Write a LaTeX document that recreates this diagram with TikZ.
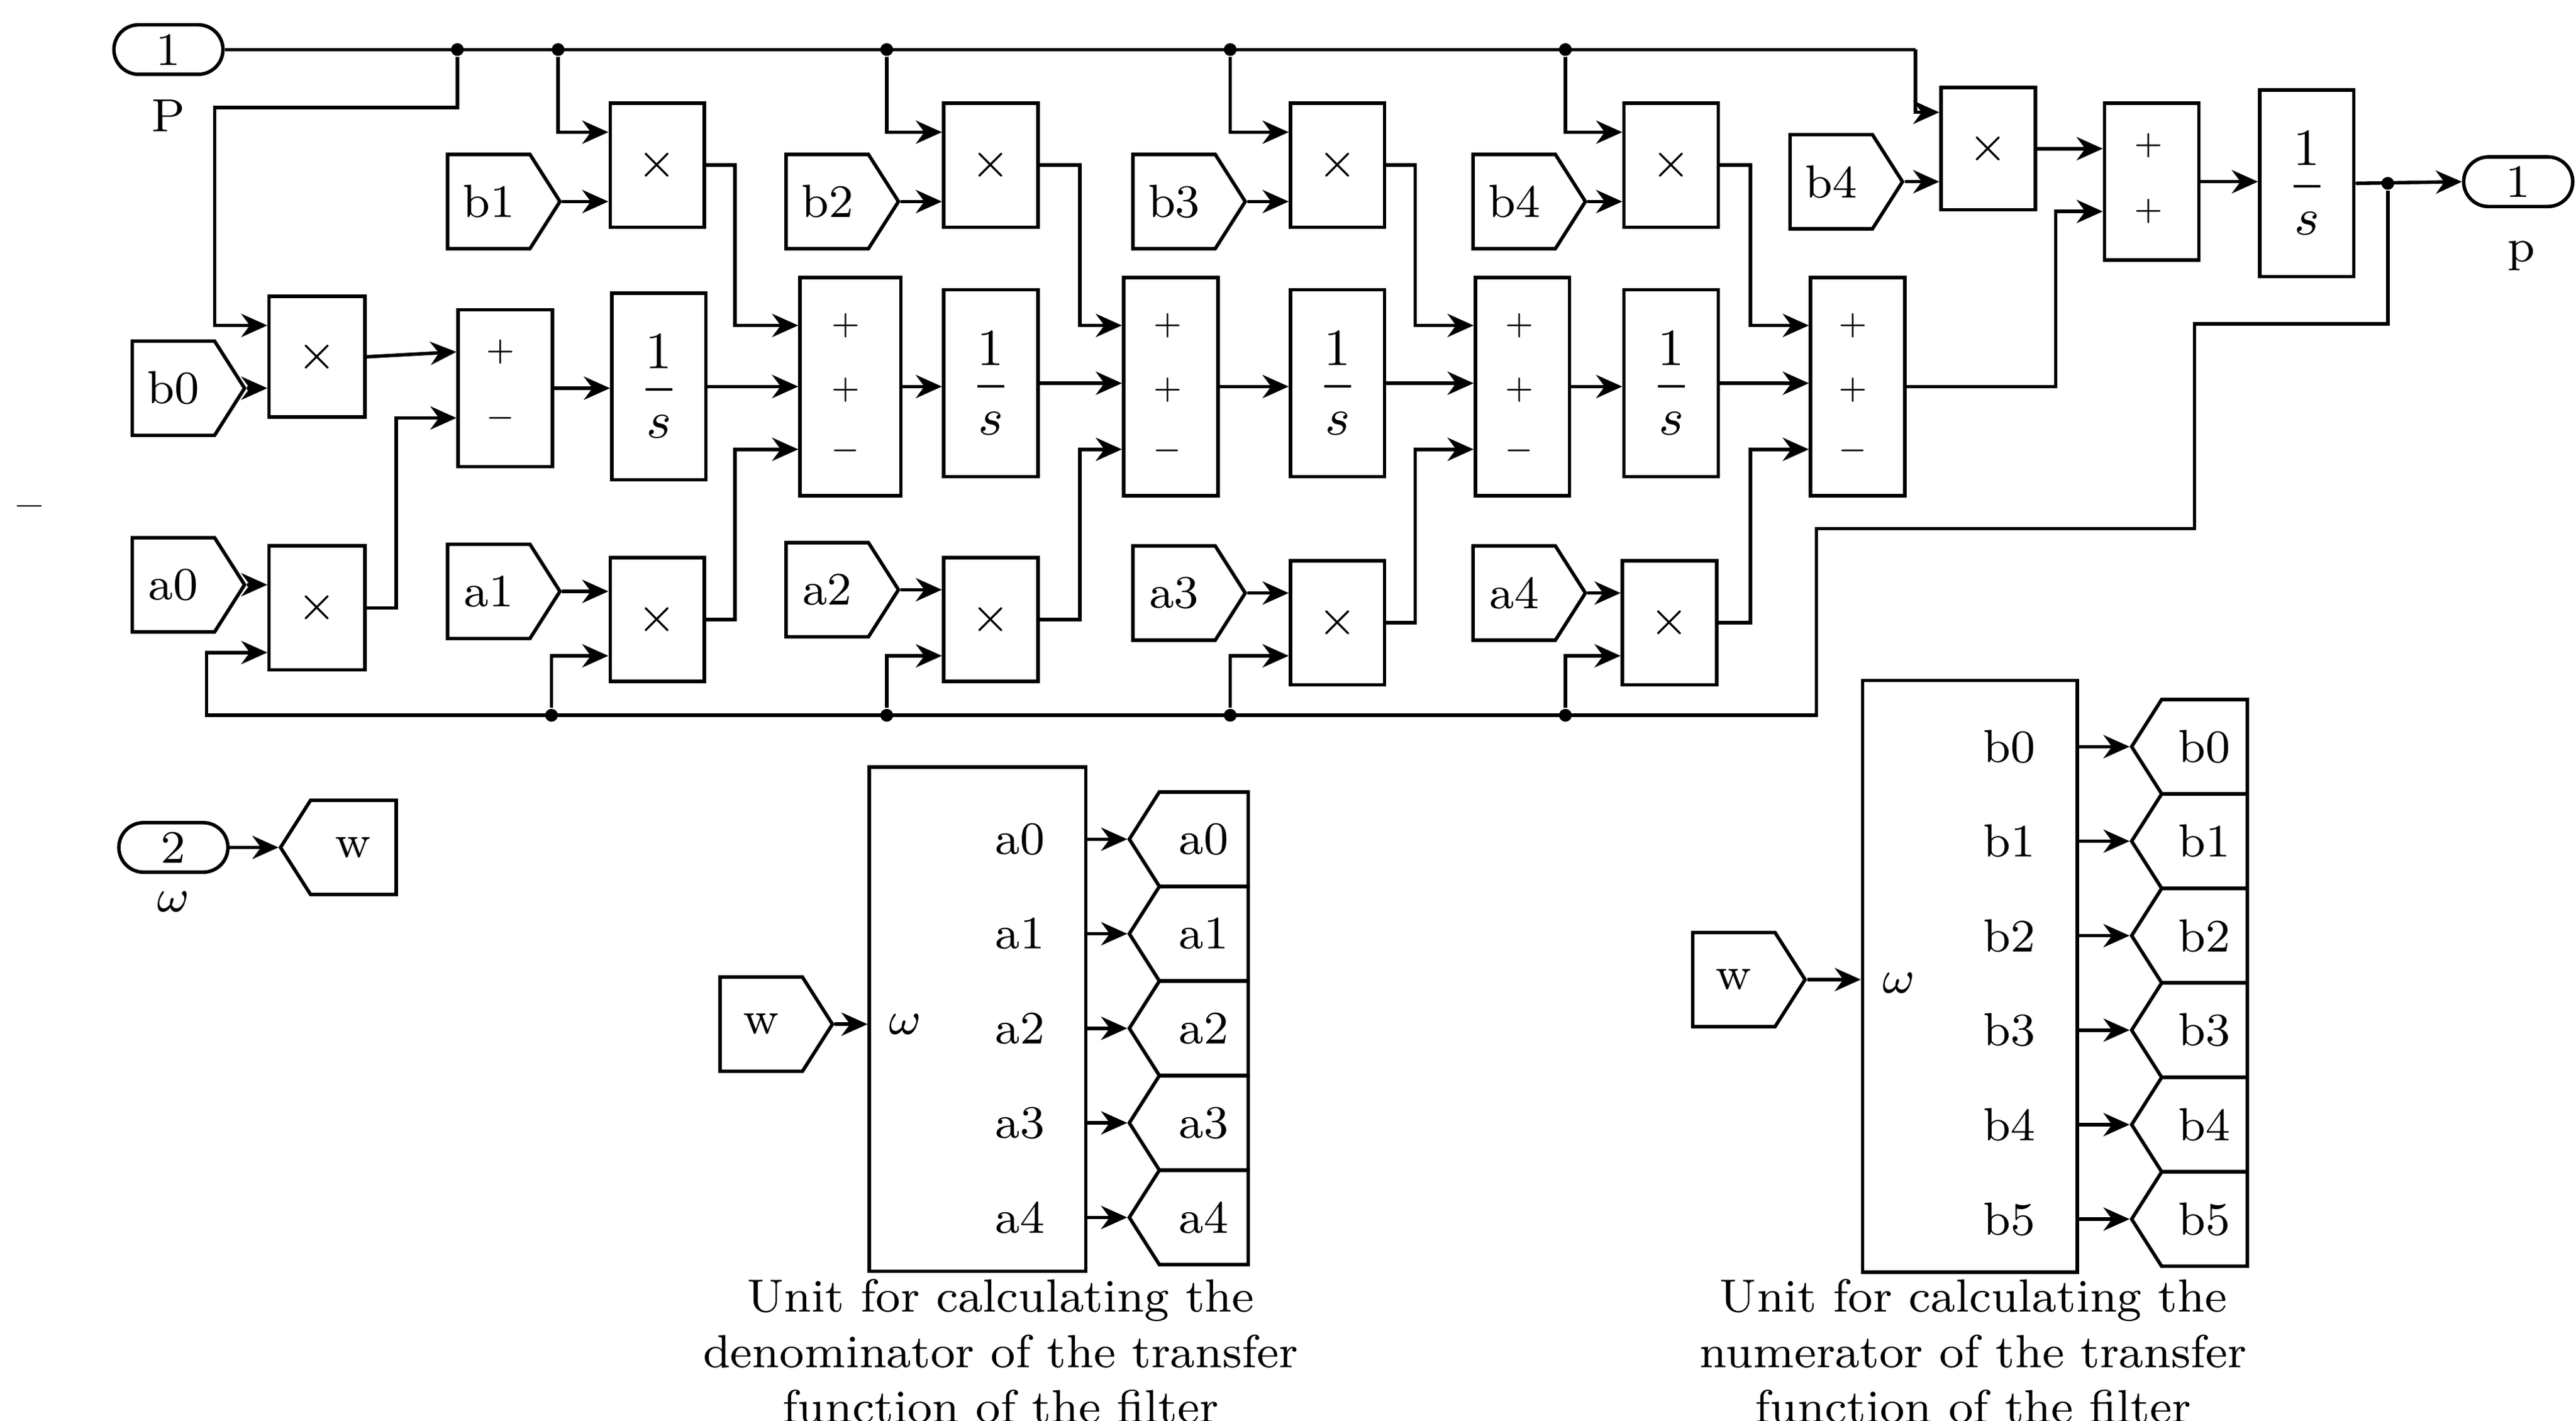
\documentclass[tikz,border=0pt]{standalone}
\usetikzlibrary{arrows.meta,shapes.symbols}
\newcommand{\ints}{$\displaystyle\frac{1}{s}$}
\tikzset{
  wire/.style={line width=0.6pt},
  sig/.style={wire,-{Stealth[length=4.5pt,width=4pt]}},
  blk/.style={draw,line width=0.6pt,rectangle,inner sep=0pt},
  gto/.style={draw,line width=0.6pt,shape=signal,signal to=east,signal pointer angle=115,
    minimum width=0.68cm,minimum height=0.57cm,inner sep=0pt,font=\footnotesize},
  frm/.style={draw,line width=0.6pt,shape=signal,signal to=west,signal pointer angle=115,
    minimum width=0.70cm,minimum height=0.57cm,inner sep=0pt,font=\footnotesize},
  term/.style={draw,line width=0.6pt,rectangle,rounded corners=1.5mm,minimum width=0.66cm,
    minimum height=0.30cm,inner sep=0pt,font=\footnotesize},
  dot/.style={circle,fill,inner sep=0pt,minimum size=2.2pt},
  pm/.style={font=\tiny,inner sep=0pt},
  integ/.style={blk,minimum width=0.57cm,minimum height=1.13cm,font=\small}
}
\begin{document}
\begin{tikzpicture}[x=0.01cm,y=-0.01cm,font=\footnotesize]
\useasboundingbox (0,0) rectangle (1560,860);
% ports
\node[term] (in1) at (102,30) {1};
\node (lP) at (102,70) {P};
\node[term] (out1) at (1525,110) {1};
\node (lp) at (1527,155) {p};
\node[term] (in2) at (105,513) {2};
\node (lw) at (105,546) {$\omega$};
\node (stray) at (18,310) {--};
% tags
\node[gto] (tb0) at (105,235) {b0};
\node[gto] (tb1) at (296,122) {b1};
\node[gto] (tb2) at (501,122) {b2};
\node[gto] (tb3) at (711,122) {b3};
\node[gto] (tb4) at (917,122) {b4};
\node[gto] (tb5) at (1109,110) {b4};
\node[gto] (ta0) at (105,354) {a0};
\node[gto] (ta1) at (296,358) {a1};
\node[gto] (ta2) at (501,357) {a2};
\node[gto] (ta3) at (711,359) {a3};
\node[gto] (ta4) at (917,359) {a4};
\node[frm] (tw) at (214,513) {w};
% multipliers
\node[blk,minimum width=0.58cm,minimum height=0.73cm] (mb0) at (192,216) {$\times$};
\node[blk,minimum width=0.57cm,minimum height=0.75cm] (mb1) at (398,100) {$\times$};
\node[blk,minimum width=0.57cm,minimum height=0.75cm] (mb2) at (600,100) {$\times$};
\node[blk,minimum width=0.57cm,minimum height=0.75cm] (mb3) at (810,100) {$\times$};
\node[blk,minimum width=0.57cm,minimum height=0.75cm] (mb4) at (1012,100) {$\times$};
\node[blk,minimum width=0.57cm,minimum height=0.74cm] (mb5) at (1204,90) {$\times$};
\node[blk,minimum width=0.58cm,minimum height=0.75cm] (ma0) at (192,368) {$\times$};
\node[blk,minimum width=0.57cm,minimum height=0.75cm] (ma1) at (398,375) {$\times$};
\node[blk,minimum width=0.57cm,minimum height=0.75cm] (ma2) at (600,375) {$\times$};
\node[blk,minimum width=0.57cm,minimum height=0.75cm] (ma3) at (810,377) {$\times$};
\node[blk,minimum width=0.57cm,minimum height=0.75cm] (ma4) at (1011,377) {$\times$};
% sums
\node[blk,minimum width=0.57cm,minimum height=0.95cm] (s1) at (306,235) {};
\node[blk,minimum width=0.61cm,minimum height=1.32cm] (s2) at (515,234) {};
\node[blk,minimum width=0.57cm,minimum height=1.32cm] (s3) at (709,234) {};
\node[blk,minimum width=0.57cm,minimum height=1.32cm] (s4) at (922,234) {};
\node[blk,minimum width=0.57cm,minimum height=1.32cm] (s5) at (1125,234) {};
\node[blk,minimum width=0.57cm,minimum height=0.95cm] (s6) at (1303,110) {};
\node[pm] (p11) at (303,213) {$+$};
\node[pm] (p12) at (303,253) {$-$};
\foreach \s/\x in {s2/512,s3/707,s4/920,s5/1122}{
  \node[pm] (\s p1) at (\x,197) {$+$};
  \node[pm] (\s p2) at (\x,236) {$+$};
  \node[pm] (\s p3) at (\x,273) {$-$};
}
\node[pm] (p61) at (1301,88) {$+$};
\node[pm] (p62) at (1301,128) {$+$};
% integrators
\node[integ] (i1) at (399,234) {\ints};
\node[integ] (i2) at (600,232) {\ints};
\node[integ] (i3) at (810,232) {\ints};
\node[integ] (i4) at (1012,232) {\ints};
\node[integ] (i5) at (1397,111) {\ints};
% input line P
\draw[wire] (in1.east) -- (1160,30);
\draw[sig] (1160,30) -- (1160,68) -- (mb5.west |- 0,68);
\node[dot] (d0) at (277,30) {};
\draw[sig] (d0) -- (277,65) -- (130,65) -- (130,197) -- (mb0.west |- 0,197);
\foreach \d/\x/\m in {d1/338/mb1,d2/537/mb2,d3/745/mb3,d4/948/mb4}{
  \node[dot] (\d) at (\x,30) {};
  \draw[sig] (\d) -- (\x,80) -- (\m.west |- 0,80);
}
\foreach \t/\m in {tb0/mb0,tb1/mb1,tb2/mb2,tb3/mb3,tb4/mb4,tb5/mb5,ta0/ma0,ta1/ma1,ta2/ma2,ta3/ma3,ta4/ma4}
  \draw[sig] (\t.east) -- (\m.west |- \t.east);
% forward chain
\draw[sig] (mb0.east) -- (s1.west |- 0,213);
\draw[sig] (ma0.east) -| (240,253) -- (s1.west |- 0,253);
\draw[sig] (s1.east) -- (i1.west |- s1.east);
\foreach \m/\a/\s/\x in {mb1/ma1/s2/445,mb2/ma2/s3/654,mb3/ma3/s4/857,mb4/ma4/s5/1060}{
  \draw[sig] (\m.east) -| (\x,197) -- (\s.west |- 0,197);
  \draw[sig] (\a.east) -| (\x,272) -- (\s.west |- 0,272);
}
\foreach \i/\s in {i1/s2,i2/s3,i3/s4,i4/s5}
  \draw[sig] (\i.east) -- (\s.west |- \i.east);
\foreach \s/\i in {s2/i2,s3/i3,s4/i4}
  \draw[sig] (\s.east) -- (\i.west |- \s.east);
\draw[sig] (s5.east) -| (1245,128) -- (s6.west |- 0,128);
\draw[sig] (mb5.east) -- (s6.west |- mb5.east);
\draw[sig] (s6.east) -- (i5.west |- s6.east);
\draw[sig] (i5.east) -- (out1.west);
% feedback
\node[dot] (df) at (1446,111) {};
\draw[sig] (df) -- (1446,196) -- (1329,196) -- (1329,320) -- (1100,320) -- (1100,433)
  -- (125,433) -- (125,395) -- (ma0.west |- 0,395);
\foreach \d/\x/\m in {e1/334/ma1,e2/537/ma2,e3/745/ma3,e4/948/ma4}{
  \node[dot] (\d) at (\x,433) {};
  \draw[sig] (\d) -- (\x,397) -- (\m.west |- 0,397);
}
\draw[sig] (in2.east) -- (tw.west);
% denominator unit
\node[blk,minimum width=1.31cm,minimum height=3.05cm] (den) at (592,617) {};
\node (dw) at (548,620) {$\omega$};
\node[gto] (twd) at (461,620) {w};
\draw[sig] (twd.east) -- (den.west |- twd.east);
\foreach \k in {0,...,4}{
  \node[anchor=east] (da\k) at (645,508+57.25*\k) {a\k};
  \node[frm,minimum width=0.72cm] (oa\k) at (729,508+57.25*\k) {a\k};
  \draw[sig] (den.east |- oa\k.west) -- (oa\k.west);
}
\node[align=center] (cden) at (606,818) {Unit for calculating the\\denominator of the transfer\\function of the filter};
% numerator unit
\node[blk,minimum width=1.30cm,minimum height=3.58cm] (num) at (1193,591) {};
\node (nw) at (1150,595) {$\omega$};
\node[gto] (twn) at (1050,593) {w};
\draw[sig] (twn.east) -- (num.west |- twn.east);
\foreach \k in {0,...,5}{
  \node[anchor=east] (nb\k) at (1245,452+57.2*\k) {b\k};
  \node[frm] (ob\k) at (1335,452+57.2*\k) {b\k};
  \draw[sig] (num.east |- ob\k.west) -- (ob\k.west);
}
\node[align=center] (cnum) at (1195,818) {Unit for calculating the\\numerator of the transfer\\function of the filter};
\end{tikzpicture}
\end{document}
